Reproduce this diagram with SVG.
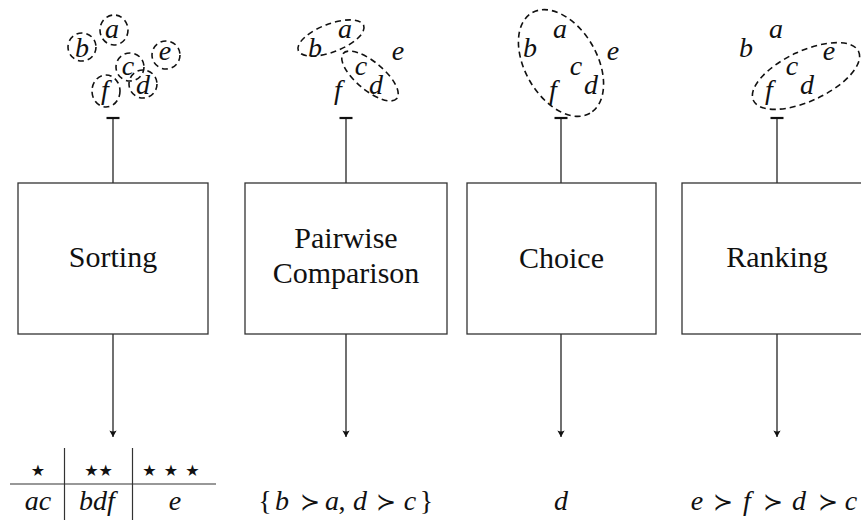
<svg xmlns="http://www.w3.org/2000/svg" width="861" height="520" viewBox="0 0 861 520">
  <defs>
    <style>
      .box { fill: #ffffff; stroke: #333333; stroke-width: 1.3; }
      .lbl { font-family: 'Liberation Serif', 'Times New Roman', Tinos, 'DejaVu Serif', 'Noto Serif', serif; font-size: 30px; fill: #111111; text-anchor: middle; }
      .m { font-family: 'Liberation Serif', 'Times New Roman', Tinos, 'DejaVu Serif', 'Noto Serif', serif; font-style: italic; font-size: 28px; fill: #111111; text-anchor: middle; }
      .rel { font-family: 'DejaVu Serif', 'Liberation Serif', serif; font-style: normal; font-size: 24px; }
      .up { font-style: normal; }
      .dash { fill: none; stroke: #111111; stroke-width: 1.6; stroke-dasharray: 6 4; }
      .conn { fill: none; stroke: #111111; stroke-width: 1.2; }
      .tee { stroke: #111111; stroke-width: 2.2; }
      .star { font-family: 'DejaVu Sans', sans-serif; font-size: 16px; fill: #111111; text-anchor: middle; }
      .rule { stroke: #333333; stroke-width: 1.2; }
    </style>
    <marker id="arr" viewBox="-7 -4 8 8" markerWidth="8" markerHeight="8" refX="0" refY="0" orient="auto" markerUnits="userSpaceOnUse">
      <path d="M0,0 L-6.5,-3.6 Q-4.5,0 -6.5,3.6 Z" fill="#111111"/>
    </marker>
  </defs>

  <!-- Input clusters -->
  <g id="input-sorting" transform="translate(113,0)">
    <ellipse class="dash" cx="1" cy="30" rx="14" ry="15"/>
    <ellipse class="dash" cx="-31" cy="47" rx="14" ry="14"/>
    <ellipse class="dash" cx="17" cy="67" rx="14" ry="14"/>
    <ellipse class="dash" cx="30" cy="84" rx="14" ry="14"/>
    <ellipse class="dash" cx="53" cy="55" rx="14" ry="14"/>
    <ellipse class="dash" cx="-7" cy="91" rx="14" ry="16"/>
    <text class="m" x="-1" y="38">a</text>
    <text class="m" x="-31" y="57">b</text>
    <text class="m" x="15" y="75">c</text>
    <text class="m" x="30" y="94">d</text>
    <text class="m" x="52" y="60">e</text>
    <text class="m" x="-8" y="99">f</text>
  </g>

  <g id="input-pairwise" transform="translate(346,0)">
    <ellipse class="dash" cx="-15" cy="38" rx="35" ry="14" transform="rotate(-21 -15 38)"/>
    <ellipse class="dash" cx="24" cy="76" rx="35" ry="14" transform="rotate(40 24 76)"/>
    <text class="m" x="-1" y="38">a</text>
    <text class="m" x="-31" y="57">b</text>
    <text class="m" x="15" y="75">c</text>
    <text class="m" x="30" y="94">d</text>
    <text class="m" x="52" y="60">e</text>
    <text class="m" x="-8" y="99">f</text>
  </g>

  <g id="input-choice" transform="translate(561,0)">
    <ellipse class="dash" cx="0" cy="63" rx="58" ry="36" transform="rotate(60 0 63)"/>
    <text class="m" x="-1" y="38">a</text>
    <text class="m" x="-31" y="57">b</text>
    <text class="m" x="15" y="75">c</text>
    <text class="m" x="30" y="94">d</text>
    <text class="m" x="52" y="60">e</text>
    <text class="m" x="-8" y="99">f</text>
  </g>

  <g id="input-ranking" transform="translate(777,0)">
    <ellipse class="dash" cx="29" cy="76" rx="58" ry="25" transform="rotate(-25 29 76)"/>
    <text class="m" x="-1" y="38">a</text>
    <text class="m" x="-31" y="57">b</text>
    <text class="m" x="15" y="75">c</text>
    <text class="m" x="30" y="94">d</text>
    <text class="m" x="52" y="60">e</text>
    <text class="m" x="-8" y="99">f</text>
  </g>

  <!-- Connectors -->
  <g id="connectors">
    <line class="tee" x1="106.5" y1="118" x2="119.5" y2="118"/>
    <line class="conn" x1="113" y1="118" x2="113" y2="183"/>
    <line class="conn" x1="113" y1="334" x2="113" y2="437" marker-end="url(#arr)"/>

    <line class="tee" x1="339.5" y1="118" x2="352.5" y2="118"/>
    <line class="conn" x1="346" y1="118" x2="346" y2="183"/>
    <line class="conn" x1="346" y1="334" x2="346" y2="437" marker-end="url(#arr)"/>

    <line class="tee" x1="554.5" y1="118" x2="567.5" y2="118"/>
    <line class="conn" x1="561" y1="118" x2="561" y2="183"/>
    <line class="conn" x1="561" y1="334" x2="561" y2="437" marker-end="url(#arr)"/>

    <line class="tee" x1="770.5" y1="118" x2="783.5" y2="118"/>
    <line class="conn" x1="777" y1="118" x2="777" y2="183"/>
    <line class="conn" x1="777" y1="334" x2="777" y2="437" marker-end="url(#arr)"/>
  </g>

  <!-- Process nodes -->
  <g id="node-sorting">
    <rect class="box" x="18" y="183" width="190" height="151"/>
    <text class="lbl" x="113" y="267">Sorting</text>
  </g>
  <g id="node-pairwise">
    <rect class="box" x="245" y="183" width="202" height="151"/>
    <text class="lbl" x="346" y="248">Pairwise</text>
    <text class="lbl" x="346" y="283">Comparison</text>
  </g>
  <g id="node-choice">
    <rect class="box" x="467" y="183" width="189" height="151"/>
    <text class="lbl" x="561.5" y="268">Choice</text>
  </g>
  <g id="node-ranking">
    <rect class="box" x="682" y="183" width="190" height="151"/>
    <text class="lbl" x="777" y="267">Ranking</text>
  </g>

  <!-- Outputs -->
  <g id="output-sorting">
    <line class="rule" x1="10" y1="484" x2="216" y2="484"/>
    <line class="rule" x1="64.5" y1="448" x2="64.5" y2="520"/>
    <line class="rule" x1="132.5" y1="448" x2="132.5" y2="520"/>
    <text class="star" x="38" y="476">★</text>
    <text class="star" x="98.5" y="476">★★</text>
    <text class="star" x="175" y="476" letter-spacing="8"><tspan x="153.5">★</tspan><tspan x="175">★</tspan><tspan x="196.5">★</tspan></text>
    <text class="m" x="38" y="510">ac</text>
    <text class="m" x="97" y="510">bdf</text>
    <text class="m" x="175" y="510">e</text>
  </g>

  <g id="output-pairwise">
    <text class="m" y="510"><tspan class="up" x="265">{</tspan><tspan x="282">b</tspan><tspan class="rel" x="309.5">≻</tspan><tspan x="332">a</tspan><tspan class="up" x="342">,</tspan><tspan x="360">d</tspan><tspan class="rel" x="386">≻</tspan><tspan x="410">c</tspan><tspan class="up" x="426.5">}</tspan></text>
  </g>

  <g id="output-choice">
    <text class="m" x="561" y="510">d</text>
  </g>

  <g id="output-ranking">
    <text class="m" y="510"><tspan x="697">e</tspan><tspan class="rel" x="723">≻</tspan><tspan x="747">f</tspan><tspan class="rel" x="773">≻</tspan><tspan x="799">d</tspan><tspan class="rel" x="828">≻</tspan><tspan x="851">c</tspan></text>
  </g>
</svg>
